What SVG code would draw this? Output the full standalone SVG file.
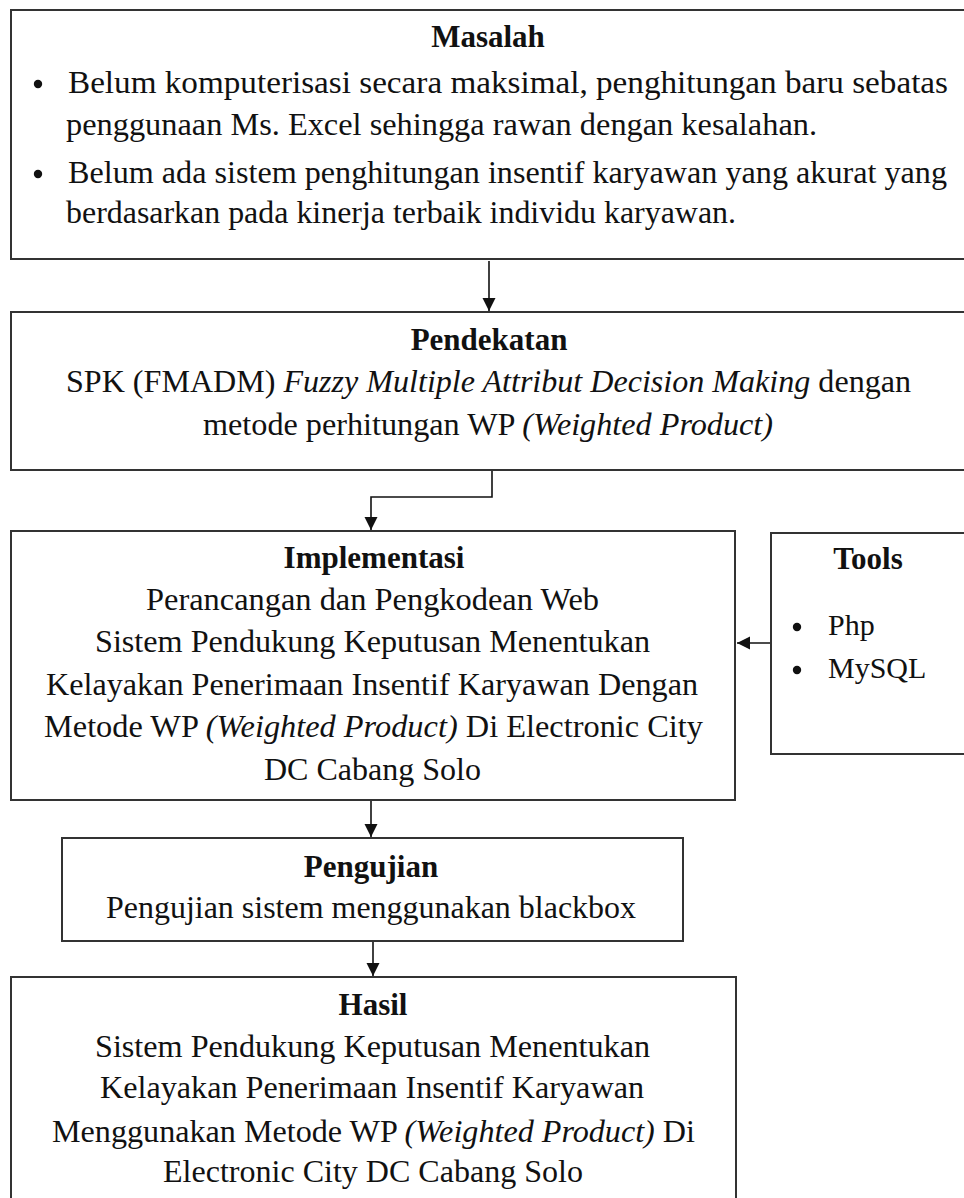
<svg xmlns="http://www.w3.org/2000/svg" width="964" height="1198" viewBox="0 0 964 1198">
<defs>
<style>
.box{fill:#fff;stroke:#333;stroke-width:2}
.t{font-family:"Liberation Serif","Times New Roman",serif;font-size:32px;fill:#111}
.b{font-weight:bold;text-anchor:middle;font-size:31px}
.s{font-size:30px}
.i{font-style:italic}
.c{fill:none;stroke:#111;stroke-width:1.6}
</style>
<marker id="ah" markerUnits="userSpaceOnUse" markerWidth="14" markerHeight="16" viewBox="0 0 14 16" refX="13" refY="8" orient="auto">
<path d="M0,1.5 L13,8 L0,14.5 Z" fill="#111"/>
</marker>
</defs>
<rect width="964" height="1198" fill="#fff"/>

<g id="connectors">
<path class="c" d="M489,261 V311" marker-end="url(#ah)"/>
<path class="c" d="M492,471 V497 H371 V530" marker-end="url(#ah)"/>
<path class="c" d="M770,643 H737" marker-end="url(#ah)"/>
<path class="c" d="M371,801 V837" marker-end="url(#ah)"/>
<path class="c" d="M373,942 V976" marker-end="url(#ah)"/>
</g>

<g id="masalah">
<rect class="box" x="11" y="10" width="970" height="249"/>
<text class="t b" x="488" y="47">Masalah</text>
<circle cx="38" cy="84" r="4.2" fill="#111"/>
<circle cx="38" cy="174" r="4.2" fill="#111"/>
<text class="t" x="68" y="93" textLength="880" lengthAdjust="spacingAndGlyphs">Belum komputerisasi secara maksimal, penghitungan baru sebatas</text>
<text class="t" x="66" y="135" textLength="751" lengthAdjust="spacingAndGlyphs">penggunaan Ms. Excel sehingga rawan dengan  kesalahan.</text>
<text class="t" x="68" y="183" textLength="879" lengthAdjust="spacingAndGlyphs">Belum ada sistem penghitungan insentif karyawan yang akurat yang</text>
<text class="t" x="66" y="223" textLength="670" lengthAdjust="spacingAndGlyphs">berdasarkan pada kinerja terbaik individu karyawan.</text>
</g>

<g id="pendekatan">
<rect class="box" x="11" y="312" width="970" height="158"/>
<text class="t b" x="489" y="350">Pendekatan</text>
<text class="t" x="66" y="392" textLength="845" lengthAdjust="spacingAndGlyphs">SPK (FMADM) <tspan class="i">Fuzzy Multiple Attribut Decision Making</tspan> dengan</text>
<text class="t" x="203" y="435" textLength="570" lengthAdjust="spacingAndGlyphs">metode perhitungan WP <tspan class="i">(Weighted Product)</tspan></text>
</g>

<g id="implementasi">
<rect class="box" x="11" y="531" width="724" height="269"/>
<text class="t b" x="374" y="568">Implementasi</text>
<text class="t" x="146" y="610" textLength="453" lengthAdjust="spacingAndGlyphs">Perancangan dan Pengkodean Web</text>
<text class="t" x="95" y="652" textLength="555" lengthAdjust="spacingAndGlyphs">Sistem Pendukung Keputusan Menentukan</text>
<text class="t" x="46" y="695" textLength="652" lengthAdjust="spacingAndGlyphs">Kelayakan Penerimaan  Insentif Karyawan Dengan</text>
<text class="t" x="44" y="737" textLength="659" lengthAdjust="spacingAndGlyphs">Metode WP <tspan class="i">(Weighted Product)</tspan> Di Electronic City</text>
<text class="t" x="264" y="780" textLength="217" lengthAdjust="spacingAndGlyphs">DC Cabang Solo</text>
</g>

<g id="tools">
<rect class="box" x="771" y="533" width="210" height="221"/>
<text class="t b" x="868" y="569">Tools</text>
<circle cx="797" cy="627" r="4.2" fill="#111"/>
<circle cx="797" cy="670" r="4.2" fill="#111"/>
<text class="t s" x="828" y="635">Php</text>
<text class="t s" x="828" y="678">MySQL</text>
</g>

<g id="pengujian">
<rect class="box" x="62" y="838" width="621" height="103"/>
<text class="t b" x="371" y="877">Pengujian</text>
<text class="t" x="106" y="918" textLength="530" lengthAdjust="spacingAndGlyphs">Pengujian sistem menggunakan blackbox</text>
</g>

<g id="hasil">
<rect class="box" x="11" y="977" width="725" height="240"/>
<text class="t b" x="373" y="1015">Hasil</text>
<text class="t" x="95" y="1057" textLength="555" lengthAdjust="spacingAndGlyphs">Sistem Pendukung Keputusan Menentukan</text>
<text class="t" x="100" y="1098" textLength="544" lengthAdjust="spacingAndGlyphs">Kelayakan Penerimaan  Insentif Karyawan</text>
<text class="t" x="52" y="1142" textLength="643" lengthAdjust="spacingAndGlyphs">Menggunakan Metode WP <tspan class="i">(Weighted Product)</tspan> Di</text>
<text class="t" x="163" y="1182" textLength="420" lengthAdjust="spacingAndGlyphs">Electronic City DC Cabang Solo</text>
</g>
</svg>
